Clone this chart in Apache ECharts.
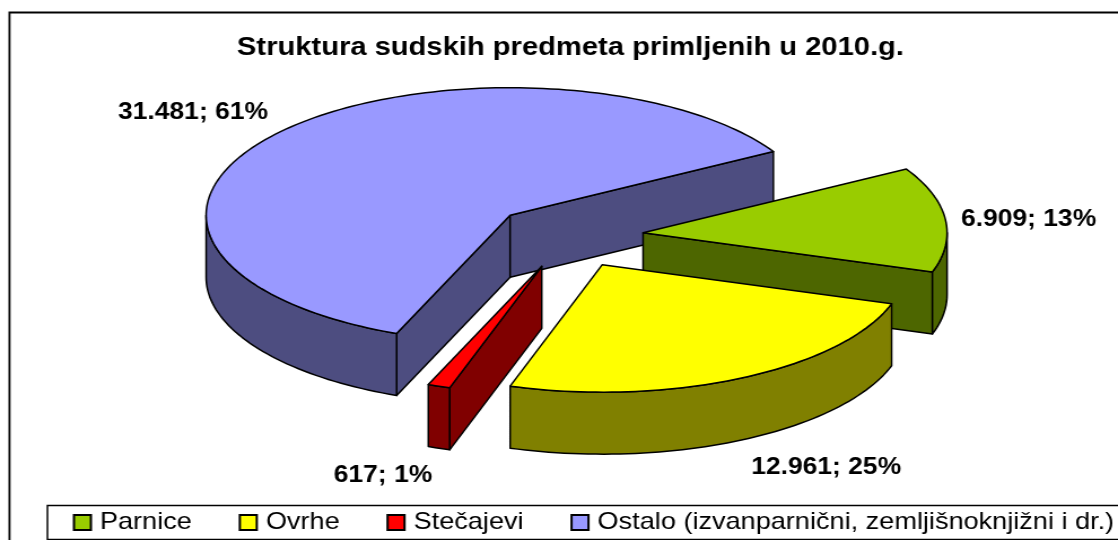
<!DOCTYPE html>
<html><head><meta charset="utf-8">
<style>html,body{margin:0;padding:0;background:#fff;overflow:hidden;width:1118px;height:540px}
#c{width:990px;height:540px;transform-origin:0 0;transform:scaleX(1.12929)}</style>
<script src="https://cdn.jsdelivr.net/npm/echarts@6/dist/echarts.min.js"></script>
</head><body><div id="c"></div>
<script>
const categories = ['Parnice', 'Ovrhe', 'Stečajevi', 'Ostalo (izvanparnični, zemljišnoknjižni i dr.)'];
const values = [6909, 12961, 617, 31481];
const percentLabels = ['13%', '25%', '1%', '61%'];
const topColors = ['#99CC00', '#FFFF00', '#FF0000', '#9999FF'];
const sideColors = ['#4D6600', '#808000', '#800000', '#4D4D80'];
// label placement relative to each slice's exploded apex, in page pixels
const labelAnchors = [[318, -25], [149, 191], [-208, 198], [-392, -114]];
const drawOrder = [3, 0, 2, 1];

const S = 1118 / 990;  // the whole chart is stretched horizontally, like the reference
const total = values.reduce((a, b) => a + b, 0);
const startAngle = 60, cx = 567.5 / S, cy = 236.2, rx = 304 / S, ry = 127.5, depth = 62, ex = 76 / S, ey = 32;
function fmt(v) { return String(v).replace(/\B(?=(\d{3})+$)/g, '.'); }

function arcPoints(ox, oy, a, b, dy) {
  const pts = [];
  const n = Math.max(2, Math.ceil(Math.abs(b - a) / 1.5));
  for (let i = 0; i <= n; i++) {
    const t = (a + (b - a) * i / n) * Math.PI / 180;
    pts.push([ox + rx * Math.sin(t), oy - ry * Math.cos(t) + dy]);
  }
  return pts;
}
const angles = [];
{ let acc = startAngle; values.forEach(v => { const s = v / total * 360; angles.push([acc, acc + s]); acc += s; }); }

function makeRender(idx) {
  return function (params, api) {
    const a = angles[idx][0], b = angles[idx][1], mid = (a + b) / 2 * Math.PI / 180;
    const ox = cx + ex * Math.sin(mid), oy = cy - ey * Math.cos(mid);
    const line = { stroke: '#000', lineWidth: 1.5, lineJoin: 'round' };
    const side = Object.assign({ fill: sideColors[idx] }, line);
    const kids = [];
    const poly = (points, style) => kids.push({ type: 'polygon', shape: { points }, style });
    const edgeFace = ang => {
      const p = arcPoints(ox, oy, ang, ang, 0)[0];
      poly([[ox, oy], p, [p[0], p[1] + depth], [ox, oy + depth]], side);
    };
    if (-Math.cos((a - 90) * Math.PI / 180) > 0) edgeFace(a);
    if (-Math.cos((b + 90) * Math.PI / 180) > 0) edgeFace(b);
    const wa = Math.max(a, 90), wb = Math.min(b, 270);
    if (wb > wa) {
      const up = arcPoints(ox, oy, wa, wb, 0), dn = arcPoints(ox, oy, wa, wb, depth).reverse();
      poly(up.concat(dn), side);
    }
    poly([[ox, oy]].concat(arcPoints(ox, oy, a, b, 0)), Object.assign({ fill: topColors[idx] }, line));
    const la = labelAnchors[idx];
    kids.push({ type: 'text', x: ox + la[0] / S, y: oy + la[1], style: {
      text: fmt(api.value(0)) + '; ' + percentLabels[idx],
      font: 'bold 23.4px "Liberation Sans", Arial, sans-serif', fill: '#000'
    }});
    return { type: 'group', children: kids };
  };
}

const chart = echarts.init(document.getElementById('c'), null, { renderer: 'canvas' });
chart.setOption({
  animation: false,
  backgroundColor: '#fff',
  title: {
    text: 'Struktura sudskih predmeta primljenih u 2010.g.',
    left: 237 / S, top: 35, padding: 0,
    textStyle: { fontFamily: '"Liberation Sans", Arial, sans-serif', fontWeight: 'bold', fontSize: 25.8, color: '#000' }
  },
  legend: {
    data: categories, left: 42, top: 505.5, width: 1100,
    padding: [5, 120, 5, 22.5], orient: 'horizontal',
    borderColor: '#000', borderWidth: 1.5,
    itemWidth: 21, itemHeight: 15, itemGap: 41.5,
    icon: 'path://M0 0H10V10H0Z',
    textStyle: { fontFamily: '"Liberation Sans", Arial, sans-serif', fontSize: 24, color: '#000' }
  },
  graphic: [{ type: 'rect', shape: { x: 8.4, y: 12.5, width: 1200, height: 600 }, style: { fill: 'none', stroke: '#000', lineWidth: 1.8 }, silent: true, z: -1 }],
  series: drawOrder.map(i => ({
    type: 'custom', name: categories[i], coordinateSystem: 'none',
    renderItem: makeRender(i), data: [[values[i]]],
    itemStyle: { color: topColors[i], borderColor: '#000', borderWidth: 1.5 }
  }))
});
</script></body></html>
